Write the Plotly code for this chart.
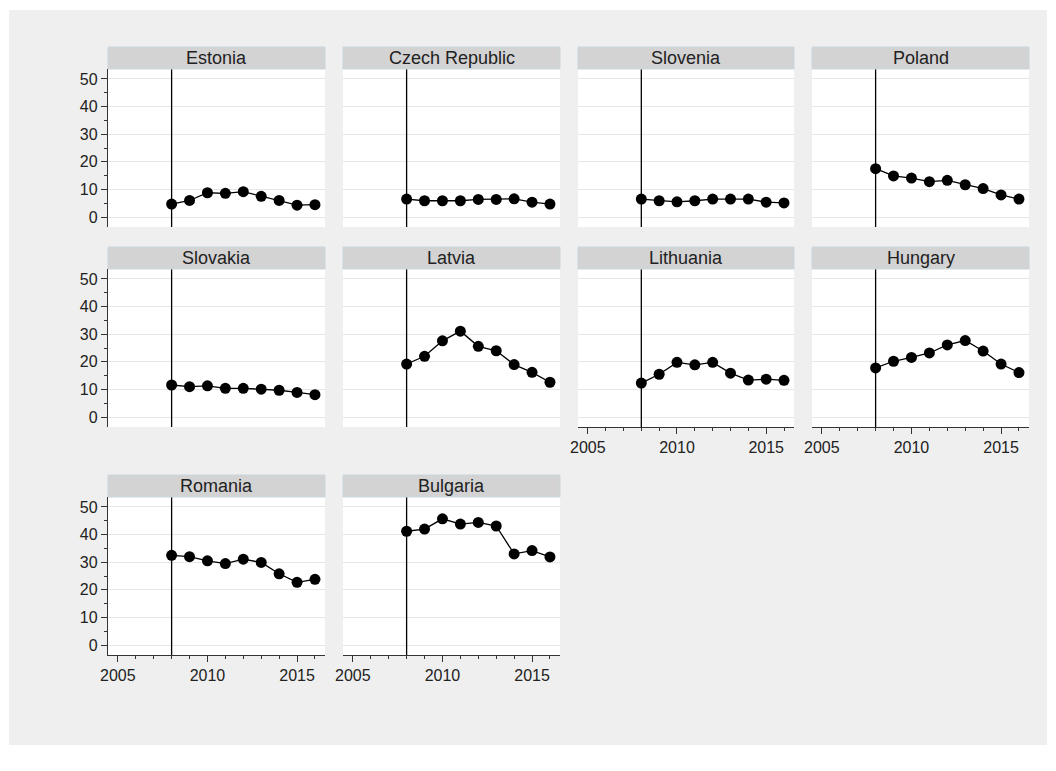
import plotly.graph_objects as go

years = [2008, 2009, 2010, 2011, 2012, 2013, 2014, 2015, 2016]
treatment_year = 2008

countries = ["Estonia", "Czech Republic", "Slovenia", "Poland",
             "Slovakia", "Latvia", "Lithuania", "Hungary",
             "Romania", "Bulgaria"]

estonia = [4.7, 6.0, 8.8, 8.6, 9.2, 7.5, 6.0, 4.3, 4.5]
czech = [6.5, 5.9, 5.9, 5.9, 6.4, 6.4, 6.6, 5.4, 4.7]
slovenia = [6.5, 5.9, 5.5, 5.9, 6.5, 6.5, 6.5, 5.4, 5.1]
poland = [17.5, 14.9, 14.1, 12.8, 13.3, 11.7, 10.3, 8.0, 6.5]
slovakia = [11.6, 11.0, 11.3, 10.4, 10.4, 10.1, 9.7, 8.9, 8.1]
latvia = [19.2, 22.0, 27.6, 31.1, 25.6, 24.0, 19.0, 16.2, 12.6]
lithuania = [12.3, 15.5, 19.8, 18.9, 19.8, 15.9, 13.4, 13.7, 13.3]
hungary = [17.8, 20.2, 21.6, 23.2, 26.1, 27.7, 23.9, 19.2, 16.1]
romania = [32.5, 32.0, 30.5, 29.5, 31.1, 29.9, 25.8, 22.7, 23.8]
bulgaria = [41.2, 42.0, 45.7, 43.8, 44.4, 43.1, 33.0, 34.2, 31.9]

series = [estonia, czech, slovenia, poland, slovakia,
          latvia, lithuania, hungary, romania, bulgaria]

y_ticks = [0, 10, 20, 30, 40, 50]
x_ticks = [2005, 2010, 2015]

# screen-pixel geometry; the page body adds an 8px margin, keep the
# figure small enough that no scrollbar shows up
OFF = 8
W, H = 1040, 755
col_px = [(108, 325), (343, 560), (578, 794), (812, 1029)]
row_px = [(69, 227), (269, 427), (497, 655)]
strip_h = 22


def px(x):
    return (x - OFF) / W


def py(y):
    return 1 - (y - OFF) / H


# panels that get an x axis (bottom of each column)
x_axis_panels = {6, 7, 8, 9}

fig = go.Figure()
shapes = []
annotations = []

# stata-like light gray graph region
shapes.append(dict(type="rect", xref="paper", yref="paper",
                   x0=px(9), x1=px(1047), y0=py(745), y1=py(10),
                   fillcolor="#efefef", line=dict(width=0), layer="below"))

font = dict(family="Liberation Sans, Arial, sans-serif", size=16, color="#222")

for i, (name, vals) in enumerate(zip(countries, series)):
    r, c = divmod(i, 4)
    n = i + 1
    sfx = "" if n == 1 else str(n)
    x0, x1 = col_px[c]
    top, bot = row_px[r]

    # white plot area on top of the gray region
    shapes.append(dict(type="rect", xref="paper", yref="paper",
                       x0=px(x0), x1=px(x1), y0=py(bot), y1=py(top),
                       fillcolor="white", line=dict(width=0), layer="below"))

    fig.add_trace(go.Scatter(
        x=years, y=vals, mode="lines+markers", xaxis="x" + sfx, yaxis="y" + sfx,
        line=dict(color="black", width=1.3),
        marker=dict(color="black", size=11), showlegend=False))

    show_x = i in x_axis_panels
    show_y = c == 0
    fig.update_layout({
        "xaxis" + sfx: dict(
            domain=[px(x0), px(x1)], anchor="y" + sfx, automargin=False,
            range=[2004.45, 2016.56], showgrid=False, zeroline=False,
            tickvals=x_ticks if show_x else [], ticks="outside" if show_x else "",
            ticklen=6, tickcolor="#333", showline=show_x, linecolor="#333",
            linewidth=1.3, tickfont=font,
            minor=dict(dtick=1, tick0=2005, ticks="outside" if show_x else "",
                       ticklen=3, tickcolor="#333"),
            fixedrange=True),
        "yaxis" + sfx: dict(
            domain=[py(bot), py(top)], anchor="x" + sfx, automargin=False,
            range=[-3.6, 53.6], tickvals=y_ticks, showticklabels=show_y,
            ticks="outside" if show_y else "", ticklen=6, tickcolor="#333",
            showgrid=True, gridcolor="#e6e6e6", gridwidth=1, zeroline=False,
            showline=show_y, linecolor="#333", linewidth=1.3, tickfont=font,
            minor=dict(dtick=5, tick0=0, ticks="outside" if show_y else "",
                       ticklen=3, tickcolor="#333"),
            fixedrange=True),
    })

    # vertical reference line
    shapes.append(dict(type="line", xref="x" + sfx, yref="y" + sfx + " domain",
                       x0=treatment_year, x1=treatment_year, y0=0, y1=1,
                       line=dict(color="black", width=1.3)))

    # strip with panel title
    shapes.append(dict(type="rect", xref="paper", yref="paper",
                       x0=px(x0), x1=px(x1), y0=py(top), y1=py(top - strip_h),
                       fillcolor="#d3d3d3", line=dict(color="#c9d6de", width=1)))
    annotations.append(dict(text=name, xref="paper", yref="paper",
                            x=px((x0 + x1) / 2), y=py(top - strip_h / 2),
                            showarrow=False, xanchor="center", yanchor="middle",
                            font=dict(family="Liberation Sans, Arial, sans-serif",
                                      size=18, color="#222")))

fig.update_layout(
    width=W, height=H,
    margin=dict(l=0, r=0, t=0, b=0),
    paper_bgcolor="white", plot_bgcolor="white",
    shapes=shapes, annotations=annotations,
    showlegend=False,
)

fig.write_html("out.html")
